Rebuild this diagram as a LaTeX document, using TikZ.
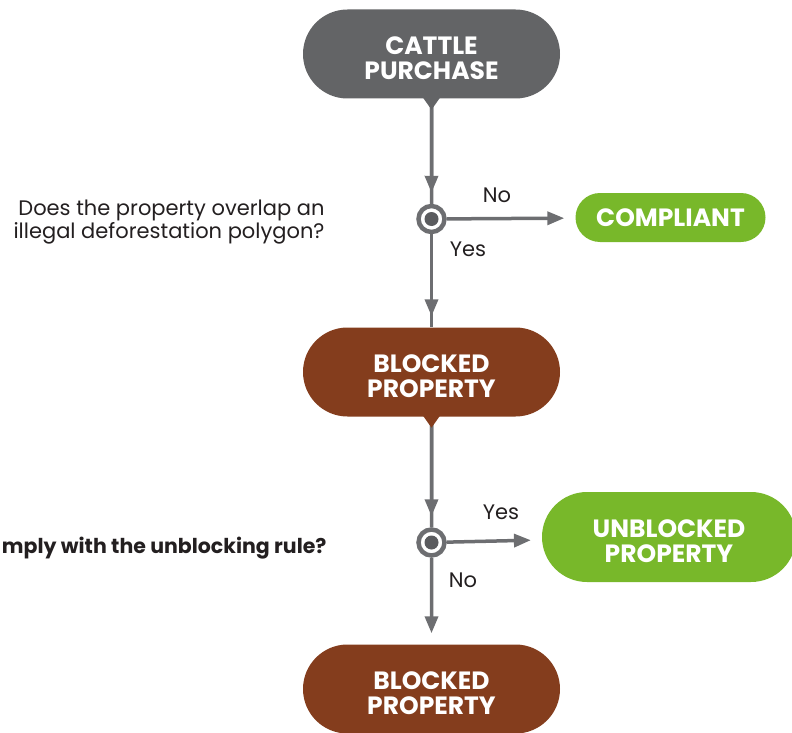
\documentclass[tikz,border=0pt]{standalone}
\usepackage{fontspec}
\setmainfont{Poppins}
\usetikzlibrary{shapes.misc,arrows.meta,positioning}

\definecolor{pillgray}{HTML}{636466}
\definecolor{pillbrown}{HTML}{843D1D}
\definecolor{pillgreen}{HTML}{78B82A}
\definecolor{linegray}{HTML}{6D6E71}
\definecolor{dotgray}{HTML}{5A5B5E}
\definecolor{textdark}{HTML}{231F20}

\newcommand{\twolines}[2]{\raisebox{-14pt}[0pt][0pt]{\begin{tabular}{@{}c@{}}#1\\#2\end{tabular}}}

\tikzset{
  pill/.style={rounded rectangle, minimum width=257, minimum height=89, inner sep=0,
    text=white, align=center, font=\bfseries\fontsize{25}{24}\selectfont},
  smallpill/.style={pill, minimum width=190, minimum height=49},
  decision/.style={circle, draw=linegray, line width=4.5, fill=white, minimum size=26, inner sep=0,
    path picture={\fill[dotgray] (path picture bounding box.center) circle (7);}},
  question/.style={anchor=east, align=right, text=textdark, font=\fontsize{21}{19.5}\selectfont},
  answer/.style={text=textdark, font=\fontsize{21}{21}\selectfont},
  tip/.style={-{Triangle[length=17,width=13]}},
  flow/.style={draw=linegray, line width=3.5, postaction={draw, tip, shorten >=11}},
  arrow/.style={draw=linegray, line width=3.5, tip, shorten >=11},
}

\begin{document}
\begin{tikzpicture}[x=1pt,y=-1pt]
  \useasboundingbox (0,0) rectangle (792,733);
  \clip (0,0) rectangle (792,733);

  \node[decision] (q1) at (431.5,219) {};
  \node[decision] (q2) at (431.5,542.5) {};
  \node[pill, fill=pillgray] (cattle) at (431.5,54) {\twolines{CATTLE}{PURCHASE}};
  \node[pill, fill=pillbrown] (blocked) at (431.5,372) {\twolines{BLOCKED}{PROPERTY}};
  \node[pill, fill=pillbrown] (blockedend) at (431.5,689) {\twolines{BLOCKED}{PROPERTY}};
  \node[smallpill, fill=pillgreen] (compliant) at (670.5,217.5) {COMPLIANT};
  \node[pill, fill=pillgreen, minimum width=254, minimum height=90] (unblocked) at (669,537) {\twolines{UNBLOCKED}{PROPERTY}};

  \draw[flow] (cattle) -- (q1);
  \draw[flow] (q1) -- (blocked);
  \draw[flow] (blocked) -- (q2);
  \draw[arrow] (q2) -- (blockedend);
  \draw[arrow] (q1) -- (compliant);
  \draw[arrow] (q2) -- (unblocked);

  % pointers under the pills
  \fill[pillgray] ([xshift=-8.5pt,yshift=1pt]cattle.south) -- ([xshift=8.5pt,yshift=1pt]cattle.south) -- ([yshift=-11pt]cattle.south) -- cycle;
  \fill[pillbrown] ([xshift=-8.5pt,yshift=1pt]blocked.south) -- ([xshift=8.5pt,yshift=1pt]blocked.south) -- ([yshift=-11pt]blocked.south) -- cycle;

  \node[question] (ask1) at (328,222) {Does the property overlap an\\illegal deforestation polygon?};
  \node[question, font=\bfseries\fontsize{20.5}{20}\selectfont] (ask2) at (330,548) {mply with the unblocking rule?};

  \node[answer] (no1) at (497,195) {No};
  \node[answer] (yes1) at (468,249) {Yes};
  \node[answer] (yes2) at (501,512) {Yes};
  \node[answer] (no2) at (463,580) {No};
\end{tikzpicture}
\end{document}
